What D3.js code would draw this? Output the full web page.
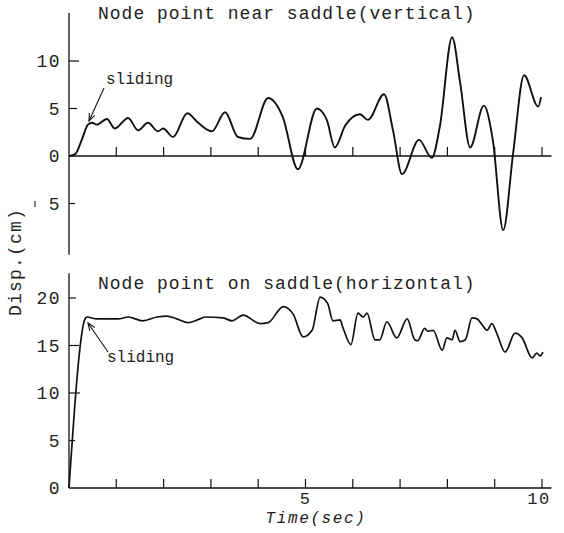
<!DOCTYPE html>
<html>
<head>
<meta charset="utf-8">
<script src="https://cdn.jsdelivr.net/npm/d3@7"></script>
<style>
  html, body { margin: 0; padding: 0; background: #fff; }
  svg { display: block; }
  text { font-family: "Liberation Mono", "DejaVu Sans Mono", monospace; fill: #222; }
</style>
</head>
<body>
<script>
// Vertical displacement of the node point near the saddle (cm) vs time (sec)
const vertTime = [0, 0.13, 0.27, 0.40, 0.49, 0.59, 0.80, 0.97, 1.25, 1.46, 1.67, 1.88, 1.99, 2.20,
  2.50, 2.73, 3.02, 3.30, 3.57, 3.83, 4.21, 4.52, 4.84, 5.24, 5.45, 5.62, 5.84, 6.15, 6.32,
  6.66, 6.85, 7.04, 7.40, 7.67, 7.84, 8.10, 8.27, 8.48, 8.77, 8.96, 9.18, 9.39, 9.62, 9.92, 9.98];
const vertDisp = [0, 0.2, 1.7, 3.3, 3.5, 3.3, 3.9, 2.9, 4.0, 2.7, 3.5, 2.6, 2.9, 2.0,
  4.5, 3.5, 2.6, 4.6, 2.0, 1.8, 6.1, 4.1, -1.4, 5.0, 3.8, 0.9, 3.2, 4.4, 3.8,
  6.5, 2.7, -1.9, 1.7, -0.2, 3.1, 12.5, 7.7, 0.9, 5.3, 1.7, -7.8, 0.3, 8.5, 5.2, 6.2];

// Horizontal displacement of the node point on the saddle (cm) vs time (sec)
const horzTime = [0, 0.34, 0.38, 0.59, 0.87, 1.04, 1.25, 1.56, 1.86, 2.07, 2.28, 2.52, 2.77, 2.88,
  3.26, 3.45, 3.68, 4.04, 4.21, 4.53, 4.74, 4.95, 5.14, 5.31, 5.47, 5.58, 5.73, 5.79, 5.96,
  6.11, 6.22, 6.30, 6.47, 6.57, 6.72, 6.93, 7.15, 7.31, 7.37, 7.52, 7.58, 7.70, 7.89, 7.99,
  8.10, 8.16, 8.27, 8.38, 8.52, 8.63, 8.73, 8.84, 8.94, 9.05, 9.22, 9.43, 9.58, 9.79, 9.89,
  9.96, 10.02];
const horzDisp = [0, 17.8, 18.0, 17.8, 17.8, 17.8, 18.0, 17.6, 18.0, 18.1, 17.8, 17.4, 17.8, 18.0,
  17.9, 17.6, 18.2, 17.3, 17.4, 19.1, 18.3, 15.9, 16.6, 20.1, 19.4, 17.6, 17.7, 16.9, 15.1,
  18.4, 18.0, 18.4, 15.6, 15.6, 17.5, 15.8, 17.8, 15.6, 15.5, 16.8, 16.5, 16.6, 14.5, 15.8,
  15.6, 16.6, 15.4, 15.6, 17.9, 17.8, 17.2, 16.6, 17.3, 16.2, 14.3, 16.3, 15.8, 13.7, 14.2,
  13.9, 14.3];

const timeTicks = [1, 2, 3, 4, 5, 6, 7, 8, 9, 10];
const timeLabels = [5, 10];
const vertTicks = [10, 5, -5];
const vertTickLabels = ["10", "5", "0", "5"];
const vertLabelValues = [10, 5, 0, -5];
const horzTicks = [20, 15, 10, 5];
const horzLabelValues = [20, 15, 10, 5, 0];

const W = 564, H = 533;
const svg = d3.select("body").append("svg").attr("width", W).attr("height", H);
svg.append("rect").attr("width", W).attr("height", H).attr("fill", "#fff");

const x = d3.scaleLinear().domain([0, 10]).range([69, 542]);
const yTop = d3.scaleLinear().domain([0, 10]).range([156, 61]);
const yBot = d3.scaleLinear().domain([0, 20]).range([488, 298]);

const ink = "#111";

// arrow helper: a line ending in an open arrowhead
function arrow(g, x1, y1, x2, y2) {
  g.append("line").attr("x1", x1).attr("y1", y1).attr("x2", x2).attr("y2", y2)
    .attr("stroke", ink).attr("stroke-width", 1.1);
  const a = Math.atan2(y2 - y1, x2 - x1), L = 8, s = 0.38;
  const p = d3.path();
  p.moveTo(x2 - L * Math.cos(a - s), y2 - L * Math.sin(a - s));
  p.lineTo(x2, y2);
  p.lineTo(x2 - L * Math.cos(a + s), y2 - L * Math.sin(a + s));
  g.append("path").attr("d", p.toString()).attr("fill", "none")
    .attr("stroke", ink).attr("stroke-width", 1.1);
}

// ---------- upper panel ----------
const upper = svg.append("g");
upper.append("line").attr("x1", x(0)).attr("x2", x(0))
  .attr("y1", yTop(15.05)).attr("y2", yTop(-10.4))
  .attr("stroke", ink).attr("stroke-width", 1.3);
upper.append("line").attr("x1", x(0)).attr("x2", x(10.2))
  .attr("y1", yTop(0)).attr("y2", yTop(0))
  .attr("stroke", ink).attr("stroke-width", 1.3);
upper.selectAll(".tt").data(timeTicks).join("line")
  .attr("x1", d => x(d)).attr("x2", d => x(d))
  .attr("y1", yTop(0)).attr("y2", yTop(0) - 9)
  .attr("stroke", ink).attr("stroke-width", 1.2);
const topTickLen = {10: 10, 5: 8, "-5": 6};
upper.selectAll(".vt").data(vertTicks).join("line")
  .attr("x1", x(0)).attr("x2", d => x(0) + topTickLen[d])
  .attr("y1", d => yTop(d)).attr("y2", d => yTop(d))
  .attr("stroke", ink).attr("stroke-width", 1.2);
upper.selectAll(".vl").data(vertLabelValues).join("text")
  .attr("x", 61).attr("y", d => yTop(d) + 6)
  .attr("text-anchor", "end").attr("font-size", 18).attr("letter-spacing", 1.5)
  .attr("fill", "#333")
  .text((d, i) => vertTickLabels[i]);
upper.append("line").attr("x1", 35).attr("x2", 35).attr("y1", 201).attr("y2", 207)
  .attr("stroke", "#333").attr("stroke-width", 1.2);

const lineTop = d3.line().x(d => x(d[0])).y(d => yTop(d[1])).curve(d3.curveMonotoneX);
upper.append("path").datum(d3.zip(vertTime, vertDisp))
  .attr("d", lineTop).attr("fill", "none").attr("stroke", ink)
  .attr("stroke-width", 1.9).attr("stroke-linejoin", "round");

upper.append("text").attr("x", 98).attr("y", 19)
  .attr("font-size", 18).attr("letter-spacing", 1)
  .text("Node point near saddle(vertical)");
upper.append("text").attr("x", 106).attr("y", 84)
  .attr("font-size", 16)
  .text("sliding");
arrow(upper, 104, 88, 89, 121);

// ---------- lower panel ----------
const lower = svg.append("g");
lower.append("line").attr("x1", x(0)).attr("x2", x(0))
  .attr("y1", yBot(22.6)).attr("y2", yBot(0))
  .attr("stroke", ink).attr("stroke-width", 1.3);
lower.append("line").attr("x1", x(0)).attr("x2", x(10.2))
  .attr("y1", yBot(0)).attr("y2", yBot(0))
  .attr("stroke", ink).attr("stroke-width", 1.3);
lower.selectAll(".tt").data(timeTicks).join("line")
  .attr("x1", d => x(d)).attr("x2", d => x(d))
  .attr("y1", yBot(0)).attr("y2", yBot(0) - 9)
  .attr("stroke", ink).attr("stroke-width", 1.2);
const botTickLen = {20: 7, 15: 10, 10: 11, 5: 6};
lower.selectAll(".vt").data(horzTicks).join("line")
  .attr("x1", x(0)).attr("x2", d => x(0) + botTickLen[d])
  .attr("y1", d => yBot(d)).attr("y2", d => yBot(d))
  .attr("stroke", ink).attr("stroke-width", 1.2);
lower.selectAll(".vl").data(horzLabelValues).join("text")
  .attr("x", 61).attr("y", d => yBot(d) + 6)
  .attr("text-anchor", "end").attr("font-size", 18).attr("letter-spacing", 1.5)
  .attr("fill", "#333")
  .text(d => d);
lower.selectAll(".xl").data(timeLabels).join("text")
  .attr("x", d => x(d) - (d === 10 ? 3 : 0)).attr("y", yBot(0) + 16)
  .attr("text-anchor", "middle").attr("font-size", 17).attr("letter-spacing", 1.5)
  .attr("fill", "#333")
  .text(d => d);

const lineBot = d3.line().x(d => x(d[0])).y(d => yBot(d[1])).curve(d3.curveMonotoneX);
lower.append("path").datum(d3.zip(horzTime, horzDisp))
  .attr("d", lineBot).attr("fill", "none").attr("stroke", ink)
  .attr("stroke-width", 1.7).attr("stroke-linejoin", "round");

lower.append("text").attr("x", 98).attr("y", 289)
  .attr("font-size", 18).attr("letter-spacing", 1)
  .text("Node point on saddle(horizontal)");
lower.append("text").attr("x", 107).attr("y", 362)
  .attr("font-size", 16)
  .text("sliding");
arrow(lower, 108, 352, 88, 323);

// axis titles
svg.append("text").attr("x", 316).attr("y", 523)
  .attr("text-anchor", "middle").attr("font-size", 16).attr("letter-spacing", 1.6)
  .attr("font-style", "italic")
  .text("Time(sec)");
svg.append("text")
  .attr("transform", "translate(21,262) rotate(-90)")
  .attr("text-anchor", "middle").attr("font-size", 18).attr("letter-spacing", 1.2)
  .attr("fill", "#333")
  .text("Disp.(cm)");
</script>
</body>
</html>
